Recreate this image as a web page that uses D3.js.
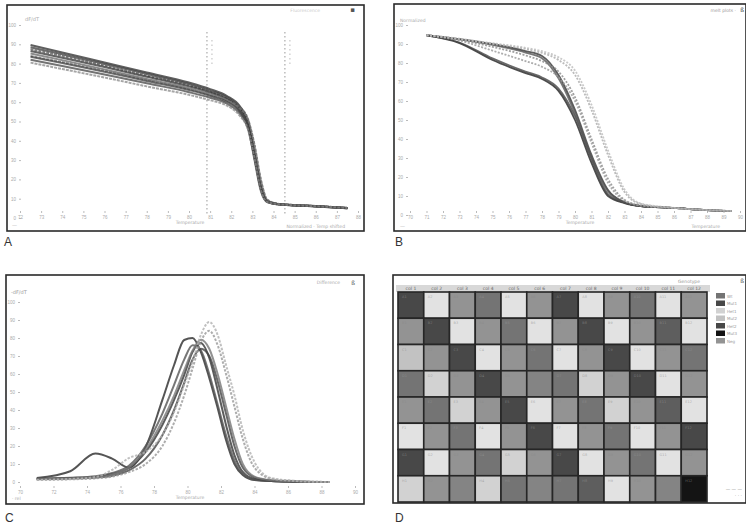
<!DOCTYPE html>
<html><head><meta charset="utf-8">
<script src="https://cdn.jsdelivr.net/npm/d3@7/dist/d3.min.js"></script>
<style>body{margin:0;background:#fff;} svg{display:block;font-family:"DejaVu Sans",sans-serif;}</style>
</head><body>
<svg id="chart" width="746" height="529"></svg>
<script>
// ---------------- DATA ----------------
const panelLetters = ["A", "B", "C", "D"];

// Panel A: raw melting curves (fluorescence vs temperature)
const aTemps = [72.5, 74, 76, 78, 80, 81, 81.8, 82.4, 82.8, 83.1, 83.4, 83.7, 84.2, 85, 86, 87.5];
const aCurves = [
  [89.6, 85.8, 80.6, 75.4, 70.2, 66.8, 63.2, 58.0, 49.7, 34.2, 16.6, 8.8, 7.3, 6.7, 6.2, 5.2],
  [88.5, 84.8, 79.8, 74.6, 69.4, 66.0, 62.5, 57.0, 48.5, 33.0, 15.5, 8.5, 7.2, 6.6, 6.1, 5.2],
  [87.5, 84.0, 79.0, 73.8, 68.9, 65.6, 62.2, 57.6, 51.0, 38.0, 20.0, 9.5, 7.4, 6.7, 6.2, 5.2],
  [86.5, 83.0, 78.2, 73.2, 68.2, 65.0, 61.6, 56.4, 48.0, 31.5, 14.8, 8.4, 7.1, 6.6, 6.1, 5.1],
  [85.2, 81.8, 77.0, 72.0, 67.2, 64.0, 60.8, 55.5, 46.8, 30.0, 14.0, 8.2, 7.1, 6.5, 6.0, 5.1],
  [84.0, 80.8, 76.4, 71.6, 66.8, 63.8, 61.0, 57.0, 50.5, 37.0, 19.5, 9.2, 7.3, 6.6, 6.1, 5.1],
  [83.5, 80.3, 75.8, 71.0, 66.3, 63.3, 60.2, 55.2, 47.5, 32.5, 16.0, 8.6, 7.2, 6.6, 6.1, 5.2],
  [82.0, 78.8, 74.4, 69.8, 65.2, 62.3, 59.2, 54.0, 46.0, 31.0, 15.2, 8.4, 7.1, 6.5, 6.0, 5.1],
  [80.5, 77.2, 72.8, 68.2, 63.8, 61.0, 58.2, 53.0, 45.6, 31.2, 14.6, 8.3, 7.2, 6.6, 6.1, 5.2]
];
const aMarkers = [80.85, 84.54];
const aYTicks = [0, 10, 20, 30, 40, 50, 60, 70, 80, 90, 100];
const aXTicks = [72, 73, 74, 75, 76, 77, 78, 79, 80, 81, 82, 83, 84, 85, 86, 87, 88];

// Panel B: normalized melting curves
const bTemps = [71, 73, 75, 77, 78, 79, 80, 81, 82, 83, 84, 86, 88, 89.5];
const bCurves = [
  [94.5, 90.5, 81.6, 74.7, 71.6, 65.3, 50.0, 27.4, 10.0, 6.3, 4.7, 3.7, 2.6, 2.1],
  [94.5, 90.8, 82.4, 75.5, 72.4, 66.5, 52.0, 29.5, 11.0, 6.5, 4.7, 3.7, 2.6, 2.1],
  [94.7, 92.6, 90.0, 86.3, 83.7, 73.7, 55.3, 31.6, 13.2, 6.8, 4.7, 3.7, 2.6, 2.1],
  [94.7, 92.4, 89.5, 85.5, 82.5, 72.0, 53.5, 30.0, 12.5, 6.6, 4.7, 3.7, 2.6, 2.1],
  [94.6, 92.2, 88.5, 84.0, 81.0, 75.5, 62.0, 40.0, 19.0, 8.0, 5.0, 3.7, 2.6, 2.1],
  [94.6, 91.8, 86.5, 81.0, 78.0, 72.5, 60.0, 38.0, 17.0, 7.5, 4.9, 3.7, 2.6, 2.1],
  [94.7, 92.6, 90.0, 87.4, 85.3, 81.6, 73.7, 55.3, 31.6, 12.1, 5.8, 3.7, 2.6, 2.1],
  [94.7, 92.8, 90.4, 88.0, 86.2, 83.0, 76.0, 58.0, 34.0, 13.5, 6.0, 3.8, 2.6, 2.1]
];
const bYTicks = [0, 10, 20, 30, 40, 50, 60, 70, 80, 90, 100];
const bXTicks = [70, 71, 72, 73, 74, 75, 76, 77, 78, 79, 80, 81, 82, 83, 84, 85, 86, 87, 88, 89, 90];

// Panel C: derivative melting peaks (-dF/dT)
const cTemps = [71, 73, 74.5, 75.5, 76.5, 77.5, 78.5, 79.2, 79.8, 80.3, 80.8, 81.3, 81.8, 82.3, 82.8, 83.3, 84, 85, 86.5, 88.5];
const cCurves = [
  [2.2, 6.0, 15.8, 13.0, 8.0, 19.4, 45.6, 65.0, 78.9, 80.0, 72.2, 57.8, 41.1, 23.3, 10.0, 3.9, 1.1, 0.6, 0.2, 0],
  [1.7, 2.2, 2.8, 4.4, 7.8, 16.7, 31.7, 45.6, 59.4, 72.2, 77.2, 68.9, 51.1, 31.7, 15.0, 5.6, 1.7, 0.6, 0.2, 0],
  [1.8, 2.4, 3.2, 5.0, 9.0, 20.0, 38.0, 54.0, 68.0, 76.0, 73.0, 60.0, 43.0, 26.0, 12.0, 4.5, 1.2, 0.5, 0.1, 0],
  [1.7, 2.0, 2.5, 3.5, 6.5, 13.0, 26.0, 40.0, 55.0, 68.0, 74.0, 70.0, 56.0, 38.0, 20.0, 8.0, 2.5, 0.8, 0.2, 0],
  [1.5, 2.0, 2.5, 4.0, 8.0, 18.0, 34.0, 48.0, 62.0, 73.0, 79.0, 74.0, 60.0, 42.0, 24.0, 10.0, 3.0, 1.0, 0.3, 0],
  [1.2, 1.5, 2.0, 3.0, 5.5, 10.0, 20.0, 33.0, 48.0, 63.0, 78.0, 84.0, 76.0, 60.0, 42.0, 24.0, 8.0, 1.8, 0.5, 0],
  [1.1, 1.7, 2.8, 6.7, 13.3, 16.7, 26.1, 38.9, 53.9, 66.7, 81.7, 88.9, 81.7, 65.0, 48.3, 28.9, 11.1, 2.2, 0.6, 0]
];
const cYTicks = [0, 10, 20, 30, 40, 50, 60, 70, 80, 90, 100];
const cXTicks = [70, 72, 74, 76, 78, 80, 82, 84, 86, 88, 90];

// Panel D: 96-well plate genotype map (gray level 0 = lightest .. 5 = darkest)
const dRows = ["A", "B", "C", "D", "E", "F", "G", "H"];
const dCols = [1, 2, 3, 4, 5, 6, 7, 8, 9, 10, 11, 12];
const dLevels = [
  [4, 0, 2, 3, 0, 2, 4, 0, 2, 3, 0, 2],
  [2, 4, 0, 2, 3, 0, 2, 4, 0, 2, 3.5, 0],
  [1, 2, 4, 0, 2, 3, 0, 2, 4, 0, 2, 3],
  [3, 0.5, 2, 4, 2, 2.5, 3, 0.5, 2, 4, 0, 2],
  [2, 3, 0.5, 2, 4, 0, 2, 3, 0.5, 2, 3.5, 0],
  [0, 2, 3, 0, 2, 4, 0, 2, 3, 0, 2, 4],
  [4, 0, 2, 3, 0.5, 2, 4, 0, 2, 3, 0, 2],
  [0.5, 2, 2.5, 0.5, 3, 2.5, 3, 3.5, 0, 2, 2.5, 5]
];
const dLegend = ["Wt", "Mut1", "Het1", "Mut2", "Het2", "Mut3", "Neg"];
const dLegendLevels = [3, 4, 0.5, 1, 4, 5, 2];

// ---------------- STYLE ----------------
const aShades = ["#2a2a2a", "#3a3a3a", "#555", "#303030", "#666", "#777", "#3c3c3c", "#444", "#888"];
const bShades = ["#222", "#444", "#333", "#555", "#888", "#999", "#aaa", "#bbb"];
const cShades = ["#2a2a2a", "#333", "#555", "#444", "#777", "#999", "#b0b0b0"];
const grayScale = d3.scaleLinear().domain([0, 1, 2, 3, 4, 5]).range(["#e2e2e2", "#c2c2c2", "#939393", "#747474", "#484848", "#141414"]);

const svg = d3.select("#chart");
svg.append("rect").attr("width", 746).attr("height", 529).attr("fill", "#fff");

function styleAxis(g) {
  g.select(".domain").remove();
  g.selectAll("line").attr("stroke", "#bbb");
  g.selectAll("text").attr("fill", "#aaa").style("font-size", "4.5px");
}
function frame(x, y, w, h) {
  svg.append("rect").attr("x", x).attr("y", y).attr("width", w).attr("height", h)
    .attr("fill", "none").attr("stroke", "#2a2a2a").attr("stroke-width", 1.6);
}
function tiny(x, y, t, anchor, col, size) {
  svg.append("text").attr("x", x).attr("y", y).text(t)
    .attr("text-anchor", anchor || "start").attr("fill", col || "#aaa")
    .style("font-size", (size || 5) + "px");
}
function letter(x, y, t) {
  svg.append("text").attr("x", x).attr("y", y).text(t)
    .attr("fill", "#333").style("font-size", "12px").style("font-family", "Liberation Sans, sans-serif");
}

// ---------------- PANEL A ----------------
frame(7, 5, 357, 226);
const ax = d3.scaleLinear().domain([72, 88]).range([20, 358]);
const ay = d3.scaleLinear().domain([0, 100]).range([218, 25]);
svg.append("g").attr("transform", "translate(21,0)").call(d3.axisLeft(ay).tickValues(aYTicks).tickSize(2).tickFormat(d => d)).call(styleAxis);
svg.append("g").attr("transform", "translate(0,211)").call(d3.axisBottom(ax).tickValues(aXTicks).tickSize(2)).call(styleAxis);
aMarkers.forEach(t => {
  svg.append("line").attr("x1", ax(t)).attr("x2", ax(t)).attr("y1", 32).attr("y2", 216)
    .attr("stroke", "#999").attr("stroke-width", 1).attr("stroke-dasharray", "1.5,2.5");
  svg.append("line").attr("x1", ax(t) + 5).attr("x2", ax(t) + 5).attr("y1", 40).attr("y2", 64)
    .attr("stroke", "#bbb").attr("stroke-width", 1).attr("stroke-dasharray", "1.5,3");
});
const aLine = d3.line().x((d, i) => ax(aTemps[i])).y(d => ay(d)).curve(d3.curveMonotoneX);
svg.append("g").selectAll("path").data(aCurves).join("path")
  .attr("d", aLine).attr("fill", "none")
  .attr("stroke", (d, i) => aShades[i]).attr("stroke-width", 2).attr("stroke-opacity", 0.75)
  .attr("stroke-dasharray", (d, i) => i % 3 === 2 ? "3,1" : null);
tiny(25, 21, "dF/dT", "start", "#aaa", 5);
tiny(355, 12, "▪", "end", "#555", 7);
tiny(320, 12, "Fluorescence", "end", "#ccc", 4.5);
tiny(190, 224, "Temperature", "middle", "#aaa", 4.5);
tiny(345, 228, "Normalized · Temp shifted", "end", "#aaa", 4.5);
tiny(12, 227, "—", "start", "#bbb", 5);
letter(4, 246, panelLetters[0]);

// ---------------- PANEL B ----------------
frame(394, 4, 352, 227);
const bx = d3.scaleLinear().domain([70, 90]).range([410, 740]);
const by = d3.scaleLinear().domain([0, 100]).range([215, 25]);
svg.append("g").attr("transform", "translate(408,0)").call(d3.axisLeft(by).tickValues(bYTicks).tickSize(2)).call(styleAxis);
svg.append("g").attr("transform", "translate(0,211)").call(d3.axisBottom(bx).tickValues(bXTicks).tickSize(2)).call(styleAxis);
const bLine = d3.line().x((d, i) => bx(bTemps[i])).y(d => by(d)).curve(d3.curveMonotoneX);
svg.append("g").selectAll("path").data(bCurves).join("path")
  .attr("d", bLine).attr("fill", "none")
  .attr("stroke", (d, i) => bShades[i]).attr("stroke-width", 1.8).attr("stroke-opacity", 0.8)
  .attr("stroke-dasharray", (d, i) => i >= 4 ? "2,1.5" : null);
tiny(400, 22, "Normalized", "start", "#aaa", 4.5);
tiny(736, 12, "melt plots ·", "end", "#999", 4.5);
tiny(744, 12, "ß", "end", "#444", 6);
tiny(580, 224, "Temperature", "middle", "#aaa", 4.5);
tiny(720, 228, "Temperature", "end", "#aaa", 4.5);
tiny(400, 228, "—", "start", "#bbb", 5);
letter(395, 246, panelLetters[1]);

// ---------------- PANEL C ----------------
frame(6, 275, 358, 229);
const cx = d3.scaleLinear().domain([70, 90]).range([20, 355]);
const cy = d3.scaleLinear().domain([0, 100]).range([482, 302]);
svg.append("g").attr("transform", "translate(20,0)").call(d3.axisLeft(cy).tickValues(cYTicks).tickSize(2)).call(styleAxis);
svg.append("g").attr("transform", "translate(0,486)").call(d3.axisBottom(cx).tickValues(cXTicks).tickSize(2)).call(styleAxis);
const cLine = d3.line().x((d, i) => cx(cTemps[i])).y(d => cy(d)).curve(d3.curveMonotoneX);
svg.append("g").selectAll("path").data(cCurves).join("path")
  .attr("d", cLine).attr("fill", "none")
  .attr("stroke", (d, i) => cShades[i]).attr("stroke-width", 2).attr("stroke-opacity", 0.8)
  .attr("stroke-dasharray", (d, i) => i >= 5 ? "2.5,1.5" : null);
tiny(11, 294, "-dF/dT", "start", "#999", 5);
tiny(340, 284, "Difference", "end", "#aaa", 4.5);
tiny(355, 285, "ß", "end", "#555", 6);
tiny(190, 499, "Temperature", "middle", "#aaa", 4.5);
tiny(12, 500, "· rel", "start", "#aaa", 4.5);
letter(5, 522, panelLetters[2]);

// ---------------- PANEL D ----------------
frame(393, 275, 353, 228);
const dx = d3.scaleBand().domain(dCols).range([398, 707]).padding(0);
const dy = d3.scaleBand().domain(dRows).range([292, 502]).padding(0);
svg.append("rect").attr("x", 396).attr("y", 285).attr("width", 314).attr("height", 7).attr("fill", "#d8d8d8");
svg.append("g").selectAll("text").data(dCols).join("text")
  .attr("x", d => dx(d) + dx.bandwidth() / 2).attr("y", 290).attr("text-anchor", "middle")
  .attr("fill", "#666").style("font-size", "4.5px").text(d => "col " + d);
const cells = [];
dLevels.forEach((row, r) => row.forEach((v, c) => cells.push({ r: dRows[r], c: dCols[c], v })));
svg.append("g").selectAll("rect").data(cells).join("rect")
  .attr("x", d => dx(d.c)).attr("y", d => dy(d.r))
  .attr("width", dx.bandwidth()).attr("height", dy.bandwidth())
  .attr("fill", d => grayScale(d.v)).attr("stroke", "#262626").attr("stroke-width", 1.6);
svg.append("g").selectAll("text").data(cells).join("text")
  .attr("x", d => dx(d.c) + 4).attr("y", d => dy(d.r) + 6)
  .attr("fill", d => d.v >= 3 ? "#999" : "#888").attr("fill-opacity", 0.6).style("font-size", "3.5px")
  .text(d => d.r + d.c);
dLegend.forEach((name, i) => {
  const yy = 293 + i * 7.5;
  svg.append("rect").attr("x", 716).attr("y", yy).attr("width", 9).attr("height", 5.5)
    .attr("fill", grayScale(dLegendLevels[i]));
  tiny(727, yy + 4.5, name, "start", "#999", 4);
});
tiny(700, 283, "Genotype", "end", "#999", 4.5);
tiny(744, 283, "ß", "end", "#555", 6);
tiny(742, 491, "— — —", "end", "#888", 4.5);
tiny(742, 497, "· · ·", "end", "#888", 4.5);
letter(395, 522, panelLetters[3]);
</script>
</body></html>
